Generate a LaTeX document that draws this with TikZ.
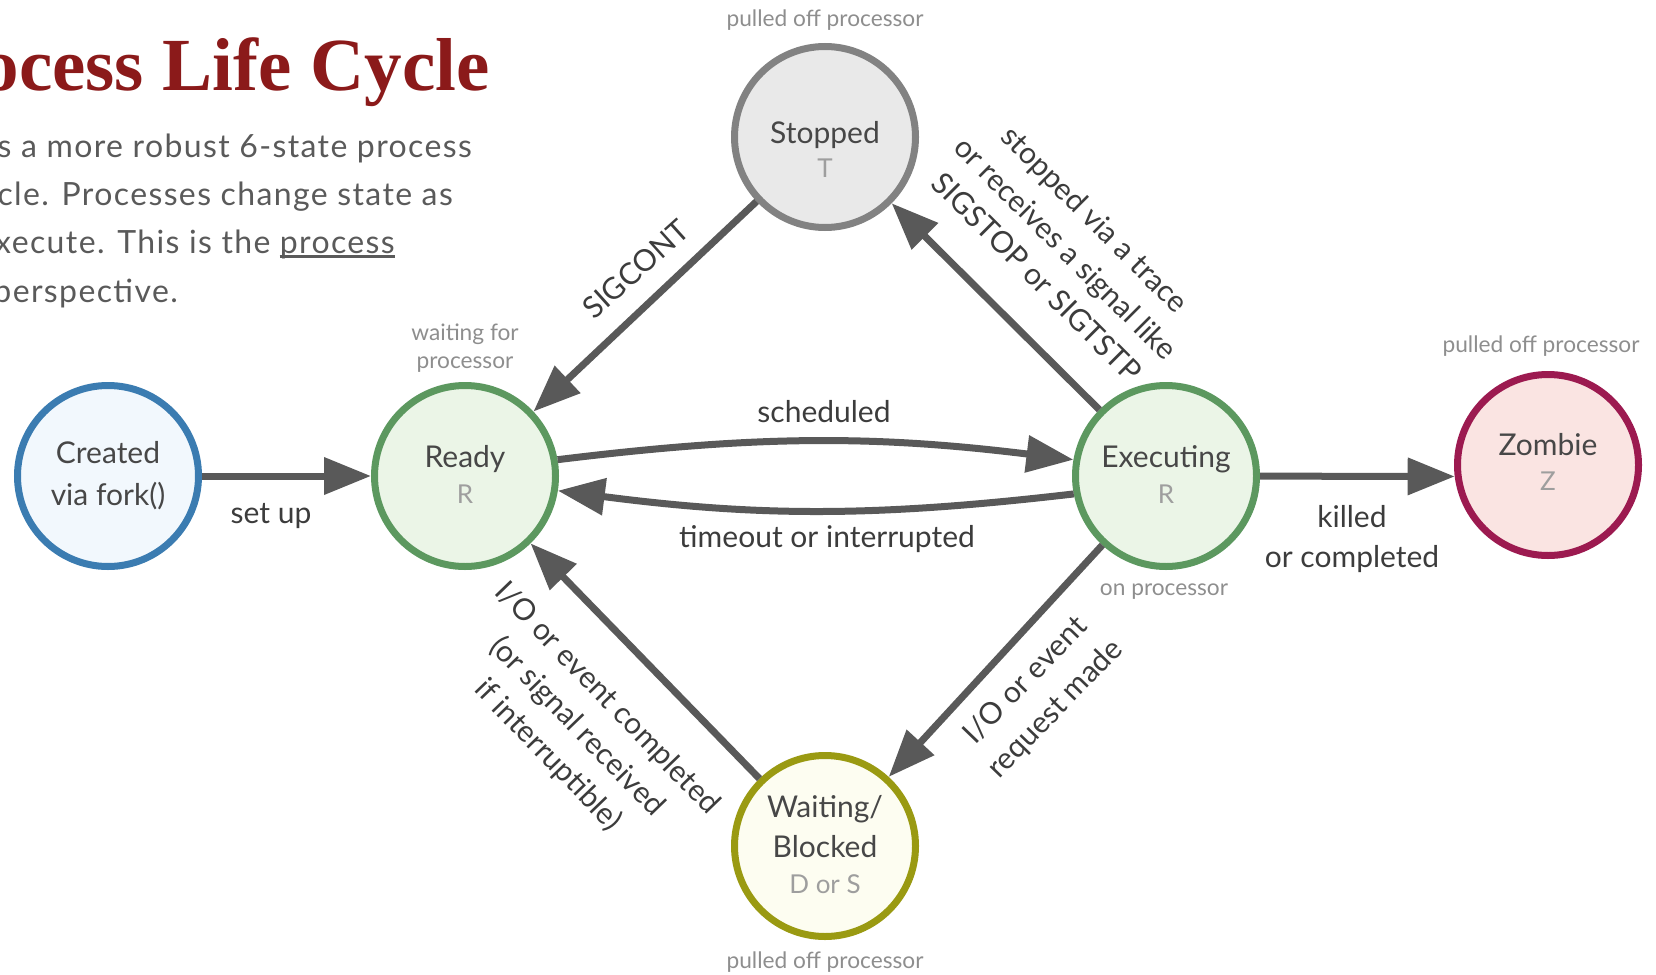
\documentclass[tikz,border=0pt]{standalone}
\usepackage{fontspec}
\setmainfont{Lato}
\newfontfamily\bodyfont[LetterSpace=4.3]{Lato}
\newfontfamily\titlefont{Liberation Serif}
\usetikzlibrary{arrows.meta}

\definecolor{arrowgray}{HTML}{595959}
\definecolor{nodetext}{HTML}{474747}
\definecolor{subtext}{HTML}{9E9E9E}
\definecolor{edgetext}{HTML}{3C3C3C}
\definecolor{notegray}{HTML}{8E8E8E}
\definecolor{bodygray}{HTML}{5A5A5A}
\definecolor{titlered}{HTML}{8B1A1A}
\definecolor{createdfill}{HTML}{F2F8FD}
\definecolor{createdline}{HTML}{3B7CB1}
\definecolor{runfill}{HTML}{EBF5E7}
\definecolor{runline}{HTML}{5C985F}
\definecolor{stopfill}{HTML}{E9E9E9}
\definecolor{stopline}{HTML}{828282}
\definecolor{zombiefill}{HTML}{FAE4E2}
\definecolor{zombieline}{HTML}{9C1A50}
\definecolor{waitfill}{HTML}{FDFDF1}
\definecolor{waitline}{HTML}{9A9A12}

\begin{document}
\begin{tikzpicture}[x=1pt, y=-1pt,
  state/.style={circle, minimum size=181pt, inner sep=0pt, line width=7pt},
  flow/.style={draw=arrowgray, line width=7pt, -{Triangle[length=47pt,width=36pt]}},
  maintext/.style={font=\fontsize{30}{36}\selectfont, text=nodetext, inner sep=0pt, anchor=base},
  subtextstyle/.style={font=\fontsize{26}{30}\selectfont, text=subtext, inner sep=0pt, anchor=base},
  edgelabel/.style={font=\fontsize{30}{41}\selectfont, text=edgetext, inner sep=0pt, align=center},
  note/.style={font=\fontsize{22.7}{28}\selectfont, text=notegray, inner sep=0pt, anchor=base},
  body/.style={font=\bodyfont\fontsize{32}{48}\selectfont, text=bodygray, inner sep=0pt, anchor=base east},
]
\useasboundingbox (0,0) rectangle (1656,974);
\clip (0,0) rectangle (1656,974);

% heading and introduction
\node[font=\titlefont\bfseries\fontsize{75}{80}\selectfont, text=titlered, inner sep=0pt, anchor=base east] (title) at (490,90) {ocess Life Cycle};
\node[body] (intro1) at (472,157) {s a more robust 6-state process};
\node[body] (intro2) at (453,205) {cle. Processes change state as};
\node[body] (intro3b) at (395,253) {process};
\node[body] (intro3a) at (intro3b.base west) {xecute. This is the\kern9pt};
\node[body] (intro4) at (178,302) {perspective.};
\draw[bodygray, line width=2.4pt] ([yshift=-3.5pt]intro3b.base west) -- ([yshift=-3.5pt]intro3b.base east);

% states
\node[state, fill=createdfill, draw=createdline] (created) at (108,476) {};
\node[state, fill=runfill, draw=runline] (ready) at (465,476) {};
\node[state, fill=runfill, draw=runline] (exec) at (1166,476) {};
\node[state, fill=zombiefill, draw=zombieline] (zombie) at (1548,465) {};
\node[state, fill=stopfill, draw=stopline] (stopped) at (825,137) {};
\node[state, fill=waitfill, draw=waitline] (waiting) at (825,846) {};

% state names and codes
\node[maintext] (createdA) at (108,463) {Created};
\node[maintext] (createdB) at (108,505) {via fork()};
\node[maintext] (readyA) at (465,467) {Ready};
\node[subtextstyle] (readyB) at (465,503) {R};
\node[maintext] (execA) at (1166,467) {Executing};
\node[subtextstyle] (execB) at (1166,503) {R};
\node[maintext] (zombieA) at (1548,455) {Zombie};
\node[subtextstyle] (zombieB) at (1548,490) {Z};
\node[maintext] (stoppedA) at (825,143) {Stopped};
\node[subtextstyle] (stoppedB) at (825,177) {T};
\node[maintext] (waitingA) at (825,817) {Waiting/};
\node[maintext] (waitingB) at (825,857) {Blocked};
\node[subtextstyle] (waitingC) at (825,893) {D or S};

% notes beside the states
\node[note] (noteStop) at (825,27) {pulled off processor};
\node[note] (noteReadyA) at (465,340) {waiting for};
\node[note] (noteReadyB) at (465,368) {processor};
\node[note] (noteZombie) at (1541,352) {pulled off processor};
\node[note] (noteExec) at (1164,595) {on processor};
\node[note] (noteWait) at (825,968) {pulled off processor};

% transitions
\draw[flow] (created) -- (ready);
\draw[flow] (ready.10) to[bend left=7] (exec.170);
\draw[flow] (exec.191) to[bend left=7] (ready.351);
\draw[flow] (stopped) -- (ready);
\draw[flow] (exec) -- (stopped);
\draw[flow] (exec) -- (zombie.187);
\draw[flow] (exec) -- (waiting);
\draw[flow] (waiting) -- (ready);

% transition labels
\node[edgelabel, anchor=base] (lSetup) at (271,523) {set up};
\node[edgelabel, anchor=base] (lSched) at (824,422) {scheduled};
\node[edgelabel, anchor=base] (lTimeout) at (827,547) {timeout or interrupted};
\node[edgelabel, anchor=base] (lKilledA) at (1352,527) {killed};
\node[edgelabel, anchor=base] (lKilledB) at (1352,567) {or completed};
\node[edgelabel, rotate=42] (lCont) at (636,269) {SIGCONT};
\node[edgelabel, rotate=-45] (lStop) at (1066,248) {stopped via a trace\\or receives a signal like\\SIGSTOP or SIGTSTP};
\node[edgelabel, rotate=46] (lReq) at (1041,695) {I/O or event\\request made};
\node[edgelabel, rotate=-46] (lDone) at (577,727) {I/O or event completed\\(or signal received\\if interruptible)};
\end{tikzpicture}
\end{document}
